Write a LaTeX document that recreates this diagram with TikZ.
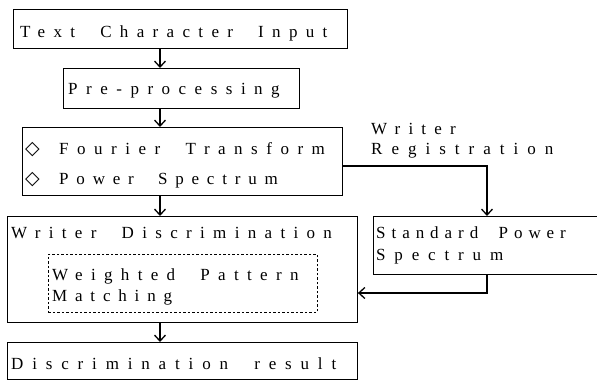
\documentclass[tikz,border=0pt]{standalone}
\usepackage{fontspec}
\setmainfont{Liberation Serif}[LetterSpace=49,WordSpace=2]
\newfontfamily\dejavu{DejaVu Sans}
\usetikzlibrary{arrows.meta}
\newcommand\lsp[1]{\addfontfeatures{LetterSpace=#1}}
\newcommand\dia{\makebox[34pt][l]{\raisebox{-0.5pt}{\dejavu\fontsize{19}{19}\selectfont ◇}}}
\begin{document}
\begin{tikzpicture}[x=1pt,y=-1pt,
  box/.style={draw, line width=0.9pt, rectangle, inner sep=0pt, anchor=north west},
  dbox/.style={box, dash pattern=on 2.5pt off 2pt},
  txt/.style={anchor=base west, inner sep=0pt, font=\fontsize{17}{20}\selectfont},
  conn/.style={line width=1.3pt},
  arr/.style={conn, -{Straight Barb[length=6pt,width=11pt,line width=1.3pt]}}]
\useasboundingbox (0,0) rectangle (597,380);
\clip (0,0) rectangle (597,380);

% boxes
\node[box, minimum width=334pt, minimum height=39pt] (b1) at (13,9) {};
\node[box, minimum width=236pt, minimum height=40pt] (b2) at (63,68) {};
\node[box, minimum width=320pt, minimum height=68pt] (b3) at (22,127) {};
\node[box, minimum width=350pt, minimum height=106pt] (b4) at (7,216) {};
\node[dbox, minimum width=269pt, minimum height=58pt] (bd) at (48,254) {};
\node[box, minimum width=240pt, minimum height=58pt] (bs) at (373,216) {};
\node[box, minimum width=350pt, minimum height=37pt] (b5) at (7,342) {};

% texts
\node[txt] (t1) at (20,37) {Text Character Input};
\node[txt] (t2) at (68,94) {\lsp{50}Pre-processing};
\node[txt] (t3a) at (25,154) {\dia\lsp{50}Fourier Transform};
\node[txt] (t3b) at (25,184) {\dia\lsp{46}Power Spectrum};
\node[txt] (tw1) at (371,134) {\lsp{48}Writer};
\node[txt] (tw2) at (371,154) {\lsp{53}Registration};
\node[txt] (t4) at (11,238) {Writer Discrimination};
\node[txt] (td1) at (52,280) {Weighted Pattern};
\node[txt] (td2) at (52,301) {\lsp{46}Matching};
\node[txt] (ts1) at (376,238) {\lsp{35}Standard Power};
\node[txt] (ts2) at (376,260) {\lsp{52}Spectrum};
\node[txt] (t5) at (11,369) {\lsp{52}Discrimination result};

% connectors
\coordinate (ax) at (160,0);
\coordinate (ex) at (487,0);
\coordinate (ey) at (0,166);
\coordinate (fy) at (0,293);
\draw[arr] (b1.south -| ax) -- (b2.north -| ax);
\draw[arr] (b2.south -| ax) -- (b3.north -| ax);
\draw[arr] (b3.south -| ax) -- (b4.north -| ax);
\draw[arr] (b4.south -| ax) -- (b5.north -| ax);
\draw[arr] (b3.east |- ey) -- (ex |- ey) -- (ex |- bs.north);
\draw[arr] (ex |- bs.south) -- (ex |- fy) -- (b4.east |- fy);
\end{tikzpicture}
\end{document}
